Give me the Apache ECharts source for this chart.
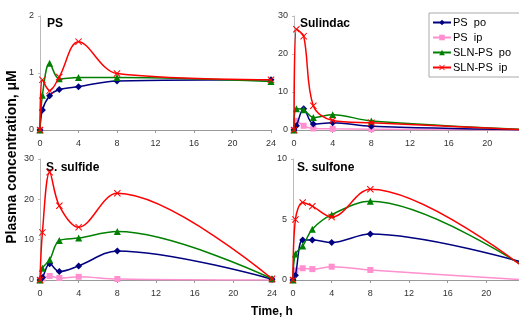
<!DOCTYPE html>
<html>
<head>
<meta charset="utf-8">
<script src="https://cdn.jsdelivr.net/npm/echarts@6/dist/echarts.min.js"></script>
<style>html,body{margin:0;padding:0;background:#fff}#c{width:519px;height:320px}</style>
</head>
<body>
<div id="c"></div>
<script>
const times = [0, 0.25, 1, 2, 4, 8, 24];
const seriesNames = ['PS  po', 'PS  ip', 'SLN-PS  po', 'SLN-PS  ip'];
const panelTitles = ['PS', 'Sulindac', 'S. sulfide', 'S. sulfone'];
const xTicks = [0, 4, 8, 12, 16, 20, 24];

// PS panel
const ps_psPo = [0, 0.35, 0.6, 0.71, 0.76, 0.86, 0.88];
const ps_psIp = [0];
const ps_slnPo = [0, 0.61, 1.17, 0.9, 0.92, 0.92, 0.85];
const ps_slnIp = [0, 0.88, 0.69, 0.93, 1.55, 0.99, 0.88];
// Sulindac panel
const su_psPo = [0, 1.1, 5.6, 1.6, 1.9, 1.0, 0.05];
const su_psIp = [0, 2.4, 1.1, 0.4, 0.3, 0.2, 0];
const su_slnPo = [0, 5.6, 5.3, 3.3, 4.0, 2.4, 0.1];
const su_slnIp = [0, 26.5, 24.7, 6.4, 2.5, 1.9, 0.05];
// S. sulfide panel
const sd_psPo = [0, 0.6, 4.0, 2.1, 3.5, 7.2, 0.2];
const sd_psIp = [0, 0.4, 1.0, 0.5, 0.8, 0.25, 0];
const sd_slnPo = [0, 2.9, 5.0, 9.8, 10.4, 12.0, 0.3];
const sd_slnIp = [0, 11.8, 26.7, 18.4, 13.1, 21.5, 0.3];
// S. sulfone panel
const sn_psPo = [0, 0.4, 3.3, 3.3, 3.1, 3.8, 1.4];
const sn_psIp = [0, 0.8, 0.97, 0.9, 1.1, 0.83, 0];
const sn_slnPo = [0, 2.15, 2.8, 4.2, 5.4, 6.5, 1.05];
const sn_slnIp = [0, 5.0, 6.4, 6.1, 5.2, 7.5, 0.95];

const yMax = [2, 30, 30, 10];
const yInterval = [1, 10, 10, 5];

const panels = [
  [ps_psPo, ps_psIp, ps_slnPo, ps_slnIp],
  [su_psPo, su_psIp, su_slnPo, su_slnIp],
  [sd_psPo, sd_psIp, sd_slnPo, sd_slnIp],
  [sn_psPo, sn_psIp, sn_slnPo, sn_slnIp]
];

const colors = ['#000080', '#ff8fcf', '#008000', '#ff0000'];
const xShape = 'path://M0,1L1,0L5,4L9,0L10,1L6,5L10,9L9,10L5,6L1,10L0,9L4,5Z';
const symbols = ['diamond', 'rect', 'triangle', xShape];
const symbolSizes = [7, 6, 7, 7];

const grids = [
  {left: 40, top: 16, width: 231, height: 114},
  {left: 294, top: 16, width: 232, height: 114},
  {left: 40, top: 159, width: 232, height: 121},
  {left: 293, top: 159, width: 232, height: 121}
];
const titlePos = [[47, 18], [300, 18], [46, 162], [297, 162]];

const font = 'Liberation Sans, Arial, sans-serif';

const xAxes = grids.map((g, i) => ({
  type: 'value', gridIndex: i, min: 0, max: 24, interval: 4,
  axisLine: {show: true, lineStyle: {color: '#999', width: 1}},
  axisTick: {show: true, length: 3, lineStyle: {color: '#999'}},
  splitLine: {show: false},
  axisLabel: {fontSize: 9, color: '#333', fontFamily: font, margin: 9, showMaxLabel: true}
}));
const yAxes = grids.map((g, i) => ({
  type: 'value', gridIndex: i, min: 0, max: yMax[i], interval: yInterval[i],
  axisLine: {show: true, lineStyle: {color: '#bbb', width: 1}},
  axisTick: {show: true, length: 2, lineStyle: {color: '#bbb'}},
  splitLine: {show: false},
  axisLabel: {fontSize: 9, color: '#333', fontFamily: font, margin: 6}
}));

const series = [];
panels.forEach((p, pi) => {
  p.forEach((vals, si) => {
    series.push({
      name: seriesNames[si],
      type: 'line',
      xAxisIndex: pi, yAxisIndex: pi,
      smooth: 0.35,
      data: vals.map((v, k) => [times[k], v]),
      symbol: symbols[si],
      symbolSize: symbolSizes[si],
      showAllSymbol: true,
      lineStyle: {color: colors[si], width: 1.5},
      itemStyle: {color: colors[si]},
      emphasis: {disabled: true},
      z: si === 1 ? 2 : 3 + si
    });
  });
});

const chart = echarts.init(document.getElementById('c'), null, {renderer: 'canvas'});
chart.setOption({
  animation: false,
  backgroundColor: '#fff',
  grid: grids.map(g => Object.assign({containLabel: false, outerBoundsMode: 'none'}, g)),
  xAxis: xAxes,
  yAxis: yAxes,
  title: panelTitles.map((t, i) => ({
    text: t, left: titlePos[i][0], top: titlePos[i][1], padding: 0,
    textStyle: {fontSize: 12, fontWeight: 'bold', color: '#000', fontFamily: font}
  })),
  legend: {
    data: seriesNames,
    orient: 'vertical',
    left: 429, top: 13,
    width: 82,
    itemWidth: 18, itemHeight: 7, itemGap: 4,
    padding: [4, 10, 4, 3],
    borderColor: '#aaa', borderWidth: 1,
    backgroundColor: '#fff',
    textStyle: {fontSize: 11, color: '#000', fontFamily: font, padding: [0, 0, 0, -3]},
    selectedMode: false
  },
  graphic: [
    {
      type: 'text', x: 12, y: 157, rotation: Math.PI / 2,
      style: {text: 'Plasma concentration, \u03bcM', font: 'bold 14px ' + font, fill: '#000',
              textAlign: 'center', textVerticalAlign: 'middle'}
    },
    {
      type: 'text', x: 272, y: 312,
      style: {text: 'Time, h', font: 'bold 12px ' + font, fill: '#000',
              textAlign: 'center', textVerticalAlign: 'middle'}
    }
  ],
  series: series
});
</script>
</body>
</html>
